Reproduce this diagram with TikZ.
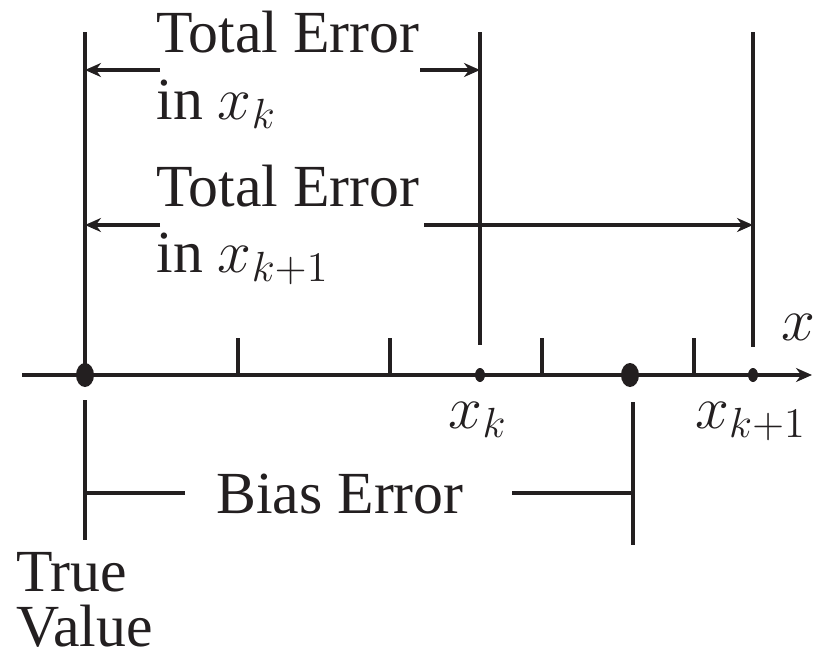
\documentclass[tikz,border=0pt]{standalone}
\usepackage{fontspec}
\setmainfont{Liberation Serif}
\definecolor{ink}{RGB}{35,31,32}
\usepackage{tikz}
\usetikzlibrary{arrows.meta,positioning,shapes.geometric}

\begin{document}
\begin{tikzpicture}[
    color=ink, line width=0.9pt,
    lbl/.style={font=\fontsize{17}{20}\selectfont, inner sep=0pt},
    bigdot/.style={ellipse, fill=ink, minimum width=0.18cm, minimum height=0.24cm, inner sep=0pt},
    smalldot/.style={ellipse, fill=ink, minimum width=0.10cm, minimum height=0.14cm, inner sep=0pt},
    arr/.style={-{Stealth[length=0.16cm, width=0.14cm]}}
]
    \useasboundingbox (0,0) rectangle (8.19,6.57);
    % points on the axis
    \coordinate (ax0) at (0.22,2.82);
    \coordinate (ax1) at (8.12,2.82);
    \node[bigdot] (tv) at (0.85,2.82) {};
    \node[smalldot] (xk) at (4.80,2.82) {};
    \node[bigdot] (bias) at (6.30,2.82) {};
    \node[smalldot] (xk1) at (7.53,2.82) {};
    \coordinate (top) at (0,6.25);
    \draw[arr] (ax0) -- (ax1);
    \foreach \t in {2.38,3.90,5.42,6.94}
        \draw (\t,2.82) -- (\t,3.19);
    \node[lbl, anchor=base east] (xlab) at (8.17,3.17) {$x$};
    \node[lbl, anchor=base] (xklbl) at (4.78,2.29) {$x_k$};
    \node[lbl, anchor=base] (xk1lbl) at (7.51,2.29) {$x_{k+1}$};

    % vertical lines
    \draw (tv |- top) -- (tv.center);
    \draw (xk |- top) -- ++(0,-3.13);
    \draw (xk1 |- top) -- ++(0,-3.15);

    % total errors
    \node[lbl, anchor=base west] (te1) at (1.55,6.05) {Total Error};
    \node[lbl, anchor=base west] (in1) at (1.55,5.38) {in $x_k$};
    \coordinate (a1l) at (1.60,5.87);
    \coordinate (a1r) at (4.20,5.87);
    \draw[arr] (a1l) -- (a1l -| tv);
    \draw[arr] (a1r) -- (a1r -| xk);

    \node[lbl, anchor=base west] (te2) at (1.55,4.51) {Total Error};
    \node[lbl, anchor=base west] (in2) at (1.55,3.85) {in $x_{k+1}$};
    \coordinate (a2l) at (1.60,4.32);
    \coordinate (a2r) at (4.24,4.32);
    \draw[arr] (a2l) -- (a2l -| tv);
    \draw[arr] (a2r) -- (a2r -| xk1);

    % bias error
    \coordinate (tvlo) at (0.85,2.57);
    \coordinate (bslo) at (6.33,2.55);
    \draw (tvlo) -- ++(0,-1.40);
    \draw (bslo) -- ++(0,-1.43);
    \node[lbl, anchor=base] (be) at (3.40,1.44) {Bias Error};
    \coordinate (bl) at (1.85,1.64);
    \coordinate (br) at (5.12,1.64);
    \draw (bl) -- (bl -| tvlo);
    \draw (br) -- (br -| bslo);

    \node[lbl, anchor=base west, align=left, font=\fontsize{17}{15.6}\selectfont] (true) at (0.15,0.11) {True\\Value};
\end{tikzpicture}
\end{document}
